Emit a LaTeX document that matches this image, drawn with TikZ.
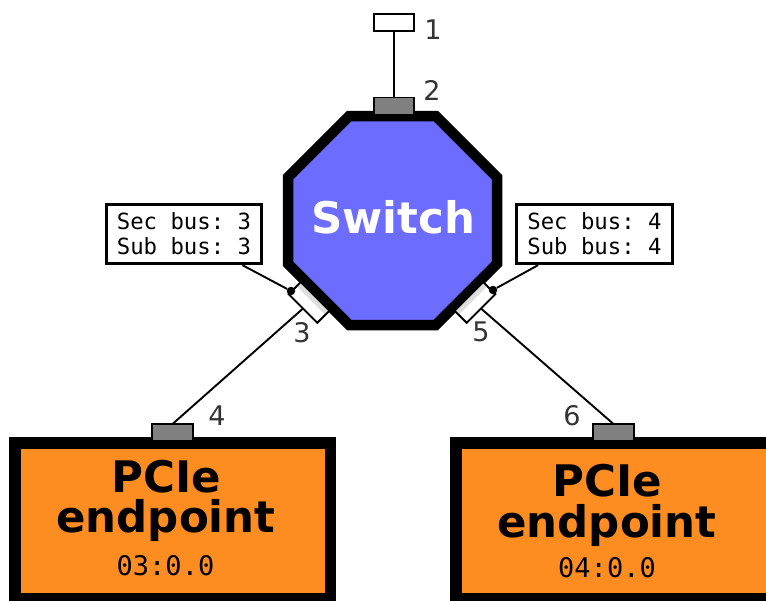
\documentclass[tikz,border=0pt]{standalone}
\usepackage{fontspec}
\setmainfont{DejaVu Sans}
\setmonofont{DejaVu Sans Mono}
\usetikzlibrary{calc}
\definecolor{swblue}{RGB}{108,108,255}
\definecolor{eporange}{RGB}{253,141,33}
\definecolor{portgray}{RGB}{128,128,128}
\definecolor{lblgray}{RGB}{51,51,51}
\definecolor{striplight}{RGB}{221,221,221}
\begin{document}
\begin{tikzpicture}[x=1pt,y=-1pt,
  port/.style={draw=black, line width=1.7pt, minimum width=40.5pt, minimum height=17pt, inner sep=0pt, outer sep=0pt},
  gport/.style={port, fill=portgray},
  wport/.style={port, fill=white},
  plabel/.style={text=lblgray, font=\fontsize{27}{32}\selectfont, inner sep=0pt},
  link/.style={line width=1.9pt},
  busbox/.style={draw, line width=2.8pt, fill=white, align=left, font=\ttfamily\fontsize{22.3}{25}\selectfont, minimum width=155.5pt, minimum height=59.5pt, inner sep=0pt},
  epbox/.style={draw, line width=11.5pt, fill=eporange, minimum width=315.5pt, minimum height=155.5pt, inner sep=0pt},
  eptitle/.style={font=\bfseries\fontsize{43.5}{40}\selectfont, inner sep=0pt, anchor=base},
  epaddr/.style={font=\ttfamily\fontsize{27}{30}\selectfont, inner sep=0pt, anchor=base},
  busdot/.style={circle, fill=black, inner sep=0pt, minimum size=8.5pt}]
\useasboundingbox (0,0) rectangle (766,600);

% switch octagon
\coordinate (o1) at (349.2,116);
\coordinate (o2) at (435.8,116);
\coordinate (o3) at (497,177.2);
\coordinate (o4) at (497,263.8);
\coordinate (o5) at (435.8,325);
\coordinate (o6) at (349.2,325);
\coordinate (o7) at (288,263.8);
\coordinate (o8) at (288,177.2);
\draw[line width=10.5pt, fill=swblue, line join=miter]
  (o1) -- (o2) -- (o3) -- (o4) -- (o5) -- (o6) -- (o7) -- (o8) -- cycle;
\node[anchor=base, text=white, font=\bfseries\fontsize{43.5}{40}\selectfont, inner sep=0pt] (sw) at (393,233) {Switch};

% endpoint boxes
\node[epbox] (e1) at (172.75,520.75) {};
\node[epbox] (e2) at (613.75,520.75) {};
\node[eptitle] (e1a) at (166,492) {PCIe};
\node[eptitle] (e1b) at (166,532) {endpoint};
\node[epaddr] (e1c) at (165.5,575) {03:0.0};
\node[eptitle] (e2a) at (607,496) {PCIe};
\node[eptitle] (e2b) at (607,537) {endpoint};
\node[epaddr] (e2c) at (607,577) {04:0.0};

% ports
\node[wport] (p1) at (394,22.5) {};
\node[gport] (p2) at (394,106) {};
\node[wport, rotate=-45] (p3) at (309,302.5) {};
\node[wport, rotate=45] (p5) at (475,302.5) {};
\node[gport] (p4) at (172.5,432.5) {};
\node[gport] (p6) at (613.5,432.5) {};

% light strips on the bridge ports
\fill[striplight] (p3.north west) -- (p3.north east) -- ($(p3.north east)!0.33!(p3.south east)$) -- ($(p3.north west)!0.33!(p3.south west)$) -- cycle;
\draw[line width=1.7pt] (p3.north west) -- (p3.north east) -- (p3.south east) -- (p3.south west) -- cycle;
\fill[striplight] (p5.north west) -- (p5.north east) -- ($(p5.north east)!0.33!(p5.south east)$) -- ($(p5.north west)!0.33!(p5.south west)$) -- cycle;
\draw[line width=1.7pt] (p5.north west) -- (p5.north east) -- (p5.south east) -- (p5.south west) -- cycle;

% links
\draw[link] (p1.south) -- (p2.north);
\draw[link] (p3.south) -- (p4.north);
\draw[link] (p5.south) -- (p6.north);

% bus info boxes
\node[busbox] (lb3) at (184,234) {Sec bus: 3\\Sub bus: 3};
\node[busbox] (lb5) at (594.5,234) {Sec bus: 4\\Sub bus: 4};
\node[busdot] (d3) at (291,291) {};
\node[busdot] (d5) at (493,290) {};
\draw[link] (d3) -- (lb3);
\draw[link] (d5) -- (lb5);

% port numbers
\node[plabel] (n1) at (433,30) {1};
\node[plabel] (n2) at (432,90) {2};
\node[plabel] (n3) at (302,333) {3};
\node[plabel] (n4) at (217,416) {4};
\node[plabel] (n5) at (481,332) {5};
\node[plabel] (n6) at (572,416) {6};
\end{tikzpicture}
\end{document}
